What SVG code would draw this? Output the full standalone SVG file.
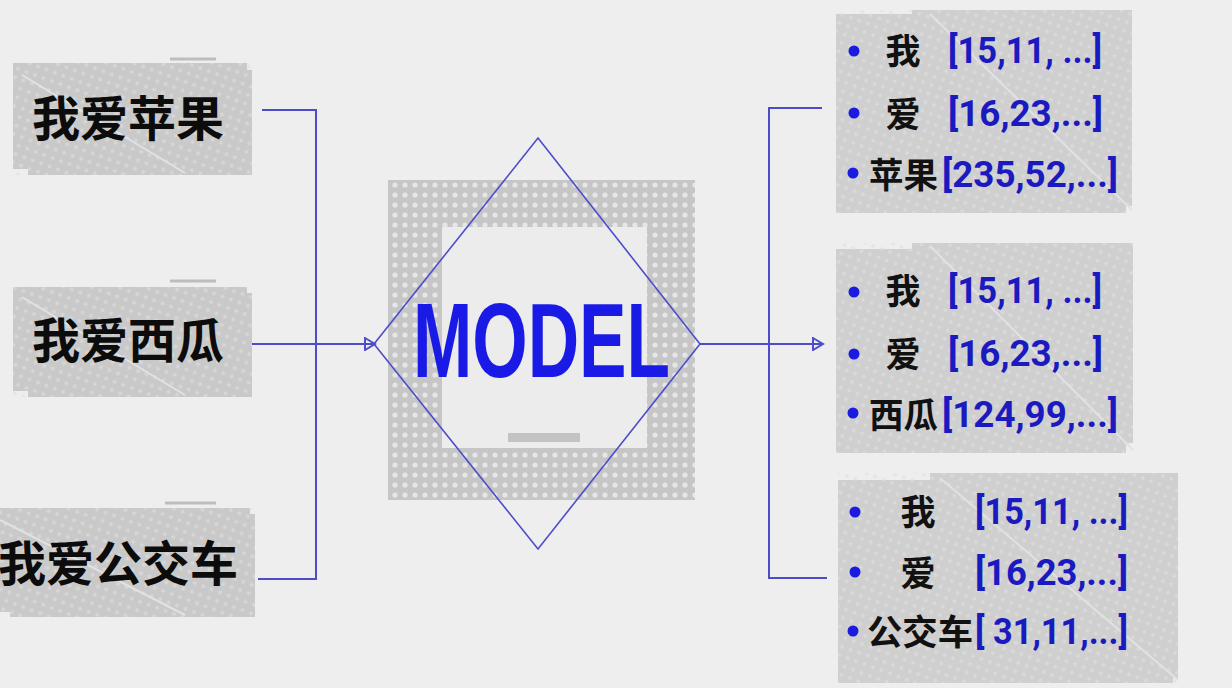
<svg xmlns="http://www.w3.org/2000/svg" width="1232" height="688" viewBox="0 0 1232 688">
<style>
.bg{fill:#eeeeee}
.card{fill:#c9c9c9}
.card2{fill:#cfcfcf}
.tex{fill:url(#dots)}
.streak{stroke:#e2e2e2;stroke-width:2;fill:none}
.dash{stroke:#bdbdbd;stroke-width:3}
.in{font-family:"Noto Sans CJK SC","Noto Sans",sans-serif;font-weight:700;font-size:48px;fill:#0c0c0c}
.cj{font-family:"Noto Sans CJK SC","Noto Sans",sans-serif;font-weight:700;font-size:35px;fill:#111111}
.num{font-family:Roboto,"Liberation Sans",sans-serif;font-weight:700;font-size:37px;fill:#1a1ac0}
.dot{fill:#1a1ae0}
.wire{stroke:#4d4dcc;stroke-width:2;fill:none}
.model{font-family:"Liberation Sans",Arial,sans-serif;font-weight:700;font-size:106px;fill:#1a1ae6}
</style>
<defs>
<pattern id="dots" width="9" height="9" patternUnits="userSpaceOnUse" patternTransform="rotate(20)">
<circle cx="4.5" cy="4.5" r="2" fill="#e0e0e0" opacity="0.6"/>
</pattern>
<pattern id="dots2" width="10" height="10" patternUnits="userSpaceOnUse">
<rect width="10" height="10" fill="#c6c6c6"/>
<circle cx="5" cy="5" r="2.6" fill="#e6e6e6"/>
</pattern>
<marker id="arr" markerWidth="14" markerHeight="14" refX="11" refY="7" orient="auto" markerUnits="userSpaceOnUse">
<path d="M1,1 L11,7 L1,13 Z" fill="none" stroke="#4d4dcc" stroke-width="2"/>
</marker>
</defs>
<rect class="bg" x="0" y="0" width="1232" height="688"/>

<g id="input-1">
<line class="dash" x1="170" y1="59" x2="216" y2="59"/>
<rect class="card" x="13" y="63" width="234" height="106"/>
<rect class="card" x="28" y="70" width="224" height="105"/>
<rect class="tex" x="13" y="63" width="239" height="112"/>
<line class="streak" x1="22" y1="75" x2="185" y2="173"/>
<text class="in" x="128" y="136" text-anchor="middle">我爱苹果</text>
</g>

<g id="input-2">
<line class="dash" x1="170" y1="281" x2="216" y2="281"/>
<rect class="card" x="13" y="287" width="234" height="104"/>
<rect class="card" x="28" y="293" width="224" height="104"/>
<rect class="tex" x="13" y="287" width="239" height="110"/>
<line class="streak" x1="22" y1="297" x2="185" y2="395"/>
<text class="in" x="128" y="358" text-anchor="middle">我爱西瓜</text>
</g>

<g id="input-3">
<line class="dash" x1="165" y1="503" x2="216" y2="503"/>
<rect class="card" x="0" y="508" width="250" height="104"/>
<rect class="card" x="10" y="514" width="245" height="103"/>
<rect class="tex" x="0" y="508" width="255" height="109"/>
<line class="streak" x1="0" y1="520" x2="185" y2="615"/>
<text class="in" x="118" y="581" text-anchor="middle">我爱公交车</text>
</g>

<g id="model">
<rect x="388" y="180" width="307" height="320" fill="url(#dots2)"/>
<rect x="442" y="227" width="205" height="221" fill="#ececec"/>
<rect x="508" y="433" width="72" height="9" fill="#c3c3c3"/>
<polygon points="538,138 700,344 538,549 374,344" fill="none" stroke="#4d4dcc" stroke-width="1.6"/>
<text class="model" x="413" y="377" textLength="257" lengthAdjust="spacingAndGlyphs">MODEL</text>
</g>

<g id="connectors">
<polyline class="wire" points="262,110 316,110 316,579 258,579"/>
<line class="wire" x1="252" y1="344" x2="375" y2="344" marker-end="url(#arr)"/>
<line class="wire" x1="700" y1="344" x2="823" y2="344" marker-end="url(#arr)"/>
<polyline class="wire" points="822,108 769,108 769,578 827,578"/>
</g>

<g id="output-1">
<rect class="card2" x="836" y="14" width="290" height="199"/>
<rect class="card2" x="912" y="10" width="220" height="196"/>
<rect class="tex" x="836" y="10" width="296" height="203"/>
<line class="streak" x1="930" y1="14" x2="1132" y2="210"/>
<circle class="dot" cx="854" cy="51" r="5.5"/>
<text class="cj" x="903" y="64" text-anchor="middle">我</text>
<text class="num" x="948" y="63" textLength="154" lengthAdjust="spacingAndGlyphs">[15,11, ...]</text>
<circle class="dot" cx="854" cy="113" r="5.5"/>
<text class="cj" x="903" y="127" text-anchor="middle">爱</text>
<text class="num" x="948" y="126" textLength="155" lengthAdjust="spacingAndGlyphs">[16,23,...]</text>
<circle class="dot" cx="853" cy="173" r="5.5"/>
<text class="cj" x="869" y="188" textLength="69" lengthAdjust="spacingAndGlyphs">苹果</text>
<text class="num" x="942" y="187" textLength="176" lengthAdjust="spacingAndGlyphs">[235,52,...]</text>
</g>

<g id="output-2">
<rect class="card2" x="836" y="249" width="290" height="204"/>
<rect class="card2" x="912" y="243" width="221" height="200"/>
<rect class="tex" x="836" y="243" width="297" height="210"/>
<line class="streak" x1="930" y1="246" x2="1133" y2="450"/>
<circle class="dot" cx="854" cy="292" r="5.5"/>
<text class="cj" x="903" y="304" text-anchor="middle">我</text>
<text class="num" x="948" y="303" textLength="154" lengthAdjust="spacingAndGlyphs">[15,11, ...]</text>
<circle class="dot" cx="854" cy="354" r="5.5"/>
<text class="cj" x="903" y="367" text-anchor="middle">爱</text>
<text class="num" x="948" y="366" textLength="155" lengthAdjust="spacingAndGlyphs">[16,23,...]</text>
<circle class="dot" cx="853" cy="413" r="5.5"/>
<text class="cj" x="869" y="428" textLength="69" lengthAdjust="spacingAndGlyphs">西瓜</text>
<text class="num" x="942" y="427" textLength="176" lengthAdjust="spacingAndGlyphs">[124,99,...]</text>
</g>

<g id="output-3">
<rect class="card2" x="838" y="480" width="335" height="203"/>
<rect class="card2" x="930" y="473" width="248" height="205"/>
<rect class="tex" x="838" y="473" width="340" height="210"/>
<line class="streak" x1="940" y1="478" x2="1178" y2="680"/>
<circle class="dot" cx="855" cy="512" r="5.5"/>
<text class="cj" x="918" y="525" text-anchor="middle">我</text>
<text class="num" x="975" y="524" textLength="153" lengthAdjust="spacingAndGlyphs">[15,11, ...]</text>
<circle class="dot" cx="855" cy="572" r="5.5"/>
<text class="cj" x="918" y="586" text-anchor="middle">爱</text>
<text class="num" x="975" y="585" textLength="153" lengthAdjust="spacingAndGlyphs">[16,23,...]</text>
<circle class="dot" cx="853" cy="631" r="5.5"/>
<text class="cj" x="867" y="645" textLength="106" lengthAdjust="spacingAndGlyphs">公交车</text>
<text class="num" x="975" y="644" textLength="153" lengthAdjust="spacingAndGlyphs">[ 31,11,...]</text>
</g>
</svg>
